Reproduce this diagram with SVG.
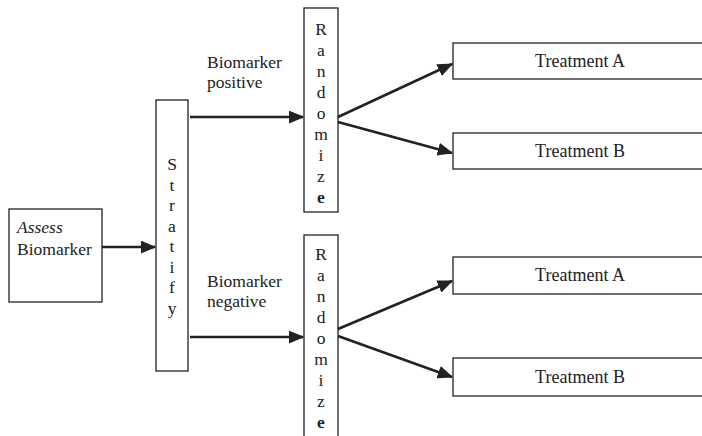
<svg xmlns="http://www.w3.org/2000/svg" width="702" height="436" viewBox="0 0 702 436">
<style>
.box{fill:#fff;stroke:#222;stroke-width:1.3}
.t{font-family:"Liberation Serif","Times New Roman",serif;font-size:17.5px;fill:#222}
.tt{font-size:18px}
.c{text-anchor:middle}
.ln{stroke:#222;stroke-width:2.6;fill:none;marker-end:url(#ah)}
</style>
<defs>
<marker id="ah" markerWidth="6" markerHeight="5" refX="5.5" refY="2.5" orient="auto" markerUnits="strokeWidth">
<path d="M0,0 L6,2.5 L0,5 Z" fill="#222"/>
</marker>
</defs>
<rect width="702" height="436" fill="#fff"/>
<g id="assess">
<rect class="box" x="9" y="209" width="93" height="93"/>
<text class="t" x="17" y="233" font-style="italic">Assess</text>
<text class="t" x="17" y="255">Biomarker</text>
</g>
<g id="stratify">
<rect class="box" x="156" y="100" width="32" height="271"/>
<text class="t c"><tspan x="172" y="170">S</tspan><tspan x="172" y="190.5">t</tspan><tspan x="172" y="211">r</tspan><tspan x="172" y="231.5">a</tspan><tspan x="172" y="252">t</tspan><tspan x="172" y="272.5">i</tspan><tspan x="172" y="293">f</tspan><tspan x="172" y="313.5">y</tspan></text>
</g>
<g id="randomize-pos">
<rect class="box" x="304" y="8" width="34" height="204"/>
<text class="t c"><tspan x="321" y="35">R</tspan><tspan x="321" y="56">a</tspan><tspan x="321" y="77">n</tspan><tspan x="321" y="98">d</tspan><tspan x="321" y="119">o</tspan><tspan x="321" y="140">m</tspan><tspan x="321" y="161">i</tspan><tspan x="321" y="182">z</tspan><tspan x="321" y="203" font-weight="bold">e</tspan></text>
</g>
<g id="randomize-neg">
<rect class="box" x="304" y="235" width="34" height="210"/>
<text class="t c"><tspan x="321" y="260">R</tspan><tspan x="321" y="281">a</tspan><tspan x="321" y="302">n</tspan><tspan x="321" y="323">d</tspan><tspan x="321" y="344">o</tspan><tspan x="321" y="365">m</tspan><tspan x="321" y="386">i</tspan><tspan x="321" y="407">z</tspan><tspan x="321" y="428" font-weight="bold">e</tspan></text>
</g>
<g id="treatA1">
<rect class="box" x="453" y="43" width="260" height="36"/>
<text class="t tt c" x="580" y="67">Treatment A</text>
</g>
<g id="treatB1">
<rect class="box" x="453" y="133" width="260" height="36"/>
<text class="t tt c" x="580" y="157">Treatment B</text>
</g>
<g id="treatA2">
<rect class="box" x="453" y="257" width="260" height="37"/>
<text class="t tt c" x="580" y="281">Treatment A</text>
</g>
<g id="treatB2">
<rect class="box" x="453" y="358" width="260" height="38"/>
<text class="t tt c" x="580" y="383">Treatment B</text>
</g>
<g id="labels">
<text class="t" x="207" y="68">Biomarker</text>
<text class="t" x="207" y="88">positive</text>
<text class="t" x="207" y="287">Biomarker</text>
<text class="t" x="207" y="307">negative</text>
</g>
<g id="connectors">
<line class="ln" x1="102" y1="247" x2="155" y2="247"/>
<line class="ln" x1="190" y1="117" x2="303" y2="117"/>
<line class="ln" x1="190" y1="337" x2="303" y2="337"/>
<line class="ln" x1="338" y1="117" x2="452" y2="64"/>
<line class="ln" x1="338" y1="122" x2="452" y2="153"/>
<line class="ln" x1="338" y1="329" x2="452" y2="281"/>
<line class="ln" x1="338" y1="336" x2="452" y2="377"/>
</g>
</svg>
